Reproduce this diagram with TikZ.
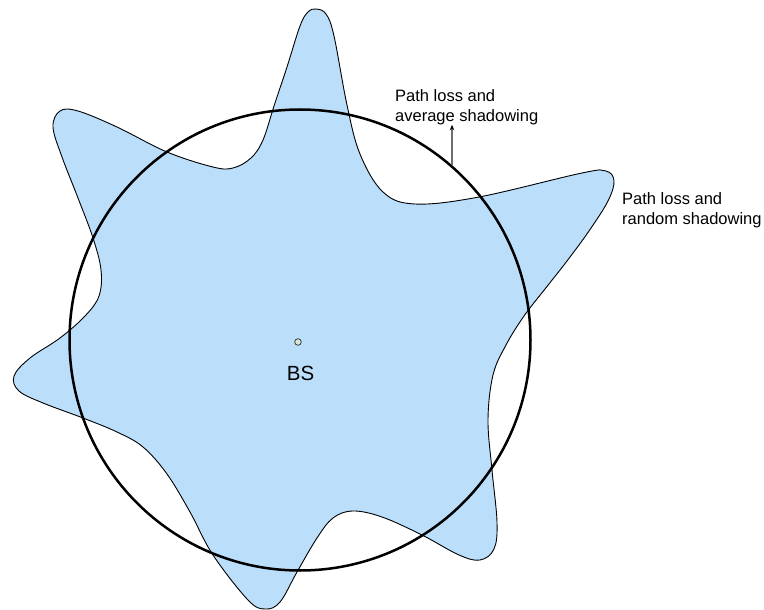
\documentclass[tikz,border=0pt]{standalone}
\usepackage{fontspec}
\setmainfont{Liberation Sans}
\usetikzlibrary{arrows.meta}
\definecolor{blobfill}{RGB}{187,222,251}
\definecolor{dotfill}{RGB}{213,232,212}
\definecolor{arrowgray}{RGB}{110,110,110}
\tikzset{
  label text/.style={font=\fontsize{16.5}{19.5}\selectfont, align=left, inner sep=0pt, anchor=north west},
  coverage/.style={draw=black, line width=2.5pt, circle, minimum size=461pt, inner sep=0pt},
  blob/.style={draw=black, line width=0.9pt, fill=blobfill},
  bsdot/.style={circle, draw={rgb,255:red,60;green,60;blue,60}, line width=0.8pt, fill=dotfill, minimum size=6.6pt, inner sep=0pt},
  pointer/.style={draw=arrowgray, line width=1.1pt, -{Stealth[length=5.5pt,width=4.5pt,color=black]}}
}
\begin{document}
\begin{tikzpicture}[x=1pt, y=-1pt]
\useasboundingbox (0,0) rectangle (764,610);
% random shadowing contour
\draw[blob] plot[smooth cycle, tension=0.6] coordinates {
 (316,9) (326,14) (334,36) (347,105) (360,154) (383,192) (415,204) (479,197)
 (582,173) (606,171) (614,181) (608,201) (589,231) (567,261) (545,289)
 (524,316) (506,345) (493,375) (488,420) (492,470) (497,522) (494,549)
 (480,560) (459,555) (422,535) (382,517) (353,511) (333,518) (317,538)
 (297,572) (280,602) (265,609) (248,600) (213,555) (190,512) (167,474)
 (143,447) (117,432) (83,418) (43,403) (19,391) (14,376) (30,358)
 (60,338) (85,316) (99,296) (101,270) (93,238) (78,198) (62,157)
 (53,127) (60,111) (78,111) (117,127) (167,152) (213,167) (233,168)
 (251,158) (263,140) (274,106) (287,67) (300,26) (308,12)
};
% average shadowing circle
\node[coverage] (C) at (300,340) {};
% base station
\node[bsdot] (bs) at (298,342) {};
\node[font=\fontsize{20.5}{24}\selectfont, inner sep=0pt, anchor=base] (bslabel) at (300.5,380) {BS};
% labels
\node[label text] (avg) at (395,89.5) {Path loss and\\average shadowing};
\node[label text] (rnd) at (622,192.5) {Path loss and\\random shadowing};
% arrow
\draw[pointer] (C.49) -- (C.49 |- avg.south);
\end{tikzpicture}
\end{document}
